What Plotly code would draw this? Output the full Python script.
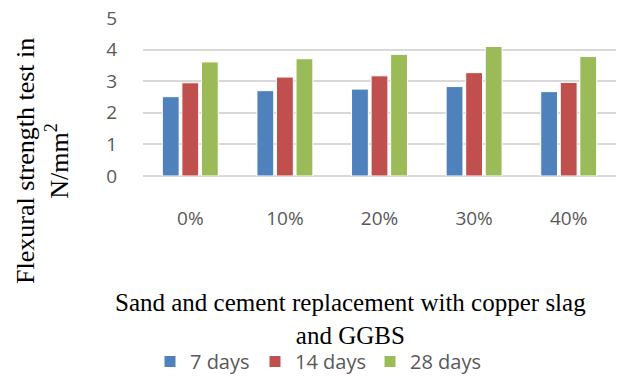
import plotly.graph_objects as go

categories = ["0%", "10%", "20%", "30%", "40%"]
days7 = [2.51, 2.70, 2.75, 2.83, 2.67]
days14 = [2.95, 3.13, 3.17, 3.27, 2.96]
days28 = [3.61, 3.71, 3.85, 4.10, 3.78]
series_names = ["7 days", "14 days", "28 days"]
colors = ["#4F81BD", "#C0504D", "#9BBB59"]
legend_ids = ["legend", "legend2", "legend3"]
legend_text_x = [187, 292, 407]

W, H = 624, 378
L, R, T, B = 143, 8, 18, 202
ph = H - T - B

def py(pix):
    return (H - B - pix) / ph

def px(pix):
    return (pix - L) / (W - L - R)

fig = go.Figure()
for name, vals, c, lid in zip(series_names, [days7, days14, days28], colors, legend_ids):
    fig.add_trace(go.Bar(x=categories, y=vals, name=name, legend=lid,
                         marker=dict(color=c, line=dict(color="white", width=1))))

legend_common = dict(orientation="h", yanchor="bottom", y=py(381), xanchor="left",
                     font=dict(size=20, color="#595959"), itemwidth=30,
                     bgcolor="rgba(0,0,0,0)")
legends = {}
for lid, tx in zip(legend_ids, legend_text_x):
    legends[lid] = dict(legend_common, x=px(tx - 37))

fig.update_layout(
    width=W, height=H,
    margin=dict(l=L, r=R, t=T, b=B, autoexpand=False),
    paper_bgcolor="white", plot_bgcolor="white",
    barmode="group", bargap=0.38, bargroupgap=0.14,
    font=dict(family="Open Sans", color="#595959"),
    xaxis=dict(tickfont=dict(size=19, color="#595959"), ticks="", showline=False,
               showgrid=False, ticklabelstandoff=29),
    yaxis=dict(range=[0, 5], dtick=1, tickfont=dict(size=19, color="#595959"), ticks="",
               showgrid=True, gridcolor="#d9d9d9", gridwidth=1.5, zeroline=True,
               zerolinecolor="#d9d9d9", zerolinewidth=1.5, ticklabelstandoff=25),
    showlegend=True,
    **legends,
)

fig.add_annotation(text="Flexural strength test in<br>N/mm<sup>2</sup>", xref="paper", yref="paper",
                   x=px(42), y=py(161), xanchor="center", yanchor="middle", textangle=-90,
                   showarrow=False, font=dict(family="Liberation Serif", size=26, color="black"))
fig.add_annotation(text="Sand and cement replacement with copper slag<br>and GGBS", xref="paper", yref="paper",
                   x=px(350), y=py(319), xanchor="center", yanchor="middle",
                   showarrow=False, font=dict(family="Liberation Serif", size=25, color="black"))

fig.write_html("out.html", config={"displayModeBar": False},
               post_script="document.body.style.margin='0';")
